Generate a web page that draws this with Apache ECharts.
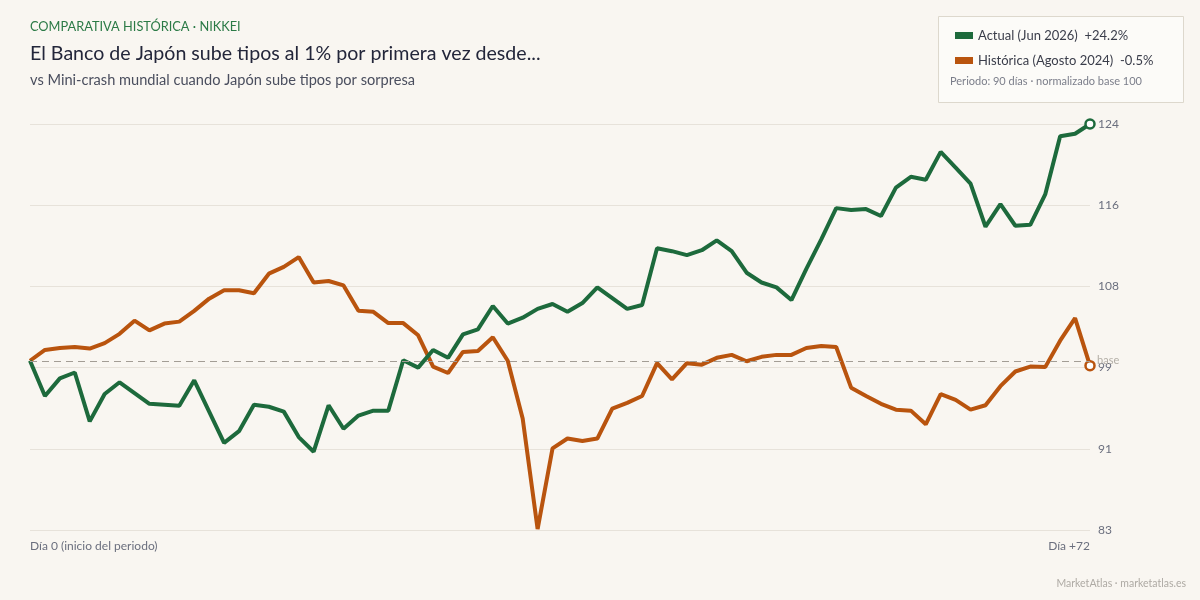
<!DOCTYPE html>
<html>
<head>
<meta charset="utf-8">
<script src="https://cdn.jsdelivr.net/npm/echarts@6/dist/echarts.min.js"></script>
<style>
  html, body { margin: 0; padding: 0; background: #f9f6f1; }
  #chart { width: 1200px; height: 600px; }
</style>
</head>
<body>
<div id="chart"></div>
<script>
// ---- Data ----
const actualName = 'Actual (Jun 2026)';
const historicName = 'Histórica (Agosto 2024)';
const actualValues = [
  100.0, 96.4, 98.2, 98.8, 93.8, 96.6, 97.8, 96.7, 95.6, 95.5,
  95.4, 98.0, 94.8, 91.6, 92.8, 95.5, 95.3, 94.8, 92.2, 90.7,
  95.45, 93.05, 94.4, 94.9, 94.9, 100.05, 99.3, 101.1, 100.3, 102.7,
  103.2, 105.6, 103.8, 104.4, 105.3, 105.8, 105.0, 105.9, 107.5, 106.4,
  105.3, 105.7, 111.5, 111.2, 110.8, 111.3, 112.3, 111.2, 109.0, 108.0,
  107.5, 106.2, 109.4, 112.4, 115.6, 115.4, 115.5, 114.8, 117.7, 118.8,
  118.5, 121.35, 119.75, 118.1, 113.7, 116.0, 113.8, 113.9, 117.0, 122.95,
  123.2, 124.2
];
const historicValues = [
  100.0, 101.1, 101.3, 101.4, 101.25, 101.8, 102.75, 104.1, 103.1, 103.8,
  104.0, 105.1, 106.35, 107.2, 107.2, 106.9, 108.9, 109.6, 110.6, 108.0,
  108.15, 107.7, 105.1, 105.0, 103.85, 103.85, 102.6, 99.4, 98.75, 100.9,
  101.0, 102.4, 100.0, 94.1, 82.8, 91.05, 92.05, 91.8, 92.05, 95.1,
  95.7, 96.4, 99.75, 98.1, 99.75, 99.6, 100.3, 100.6, 99.95, 100.4,
  100.6, 100.6, 101.3, 101.5, 101.4, 97.25, 96.4, 95.6, 95.0, 94.9,
  93.5, 96.6, 96.0, 95.0, 95.45, 97.4, 98.9, 99.4, 99.35, 102.05,
  104.35, 99.5
];
const xTickLabels = ['Día 0 (inicio del periodo)', 'Día +72'];
const yMin = 82.7, yMax = 124.2, yInterval = 8.3;
const baseValue = 100;

const colActual = '#1d6a3c';
const colHistoric = '#b9540e';

const n = actualValues.length;
const categories = actualValues.map((_, i) => String(i));

function withEndMarker(values, color) {
  return values.map((v, i) => i === values.length - 1
    ? { value: v, symbol: 'circle', symbolSize: 9,
        itemStyle: { color: '#ffffff', borderColor: color, borderWidth: 2.5 } }
    : v);
}
function pct(values) {
  const d = values[values.length - 1] - baseValue;
  return (d >= 0 ? '+' : '') + d.toFixed(1) + '%';
}
const changeByName = {};
changeByName[actualName] = pct(actualValues);
changeByName[historicName] = pct(historicValues);

const chart = echarts.init(document.getElementById('chart'), null, { renderer: 'canvas' });
const FONT = 'Lato, "Noto Sans", sans-serif';

chart.setOption({
  backgroundColor: '#f9f6f1',
  animation: false,
  textStyle: { fontFamily: FONT },
  grid: { left: 30, right: 110, top: 124, bottom: 70, containLabel: false },
  xAxis: {
    type: 'category',
    data: categories,
    boundaryGap: false,
    axisLine: { show: false },
    axisTick: { show: false },
    splitLine: { show: false },
    axisLabel: {
      color: '#6b6f7e', fontSize: 12, margin: 10,
      interval: (idx) => idx === 0 || idx === n - 1,
      showMinLabel: true, showMaxLabel: true,
      alignMinLabel: 'left', alignMaxLabel: 'right',
      formatter: (val, idx) => idx === 0 ? xTickLabels[0] : (idx === n - 1 ? xTickLabels[1] : '')
    }
  },
  yAxis: {
    type: 'value',
    position: 'right',
    min: yMin, max: yMax, interval: yInterval,
    axisLine: { show: false },
    axisTick: { show: false },
    splitLine: { lineStyle: { color: '#e7e2da', width: 1 } },
    axisLabel: {
      color: '#6b6f7e', fontSize: 12, margin: 8,
      formatter: (v) => String(Math.round(v))
    }
  },
  legend: {
    left: 950, top: 24, orient: 'vertical',
    itemWidth: 18, itemHeight: 7, itemGap: 12, icon: 'rect',
    textStyle: { color: '#3a3d4a', fontSize: 13, fontFamily: FONT },
    formatter: (name) => name + '  ' + changeByName[name],
    selectedMode: false,
    data: [actualName, historicName]
  },
  series: [
    {
      name: actualName, type: 'line', data: withEndMarker(actualValues, colActual),
      symbol: 'none', showSymbol: true, z: 3, clip: false,
      itemStyle: { color: colActual },
      lineStyle: { color: colActual, width: 4 },
      markLine: {
        silent: true, symbol: 'none',
        lineStyle: { color: '#a39d95', type: [7, 5], width: 1 },
        label: { show: true, position: 'end', formatter: 'base', color: '#b3aea6', fontSize: 11, distance: 7 },
        data: [{ yAxis: baseValue }]
      }
    },
    {
      name: historicName, type: 'line', data: withEndMarker(historicValues, colHistoric),
      symbol: 'none', showSymbol: true, z: 2, clip: false,
      itemStyle: { color: colHistoric },
      lineStyle: { color: colHistoric, width: 4 }
    }
  ],
  graphic: [
    { type: 'rect', left: 938, top: 16, z: -1, silent: true,
      shape: { width: 245, height: 86 },
      style: { fill: '#fcfbf8', stroke: '#ddd8cd', lineWidth: 1 } },
    { type: 'text', left: 950, top: 76, silent: true,
      style: { text: 'Periodo: 90 días · normalizado base 100', fill: '#7b7e8a', font: '11px ' + FONT } },
    { type: 'text', left: 30, top: 20, silent: true,
      style: { text: 'COMPARATIVA HISTÓRICA · NIKKEI', fill: '#2b7a46', font: '12.8px ' + FONT } },
    { type: 'text', left: 30, top: 44, silent: true,
      style: { text: 'El Banco de Japón sube tipos al 1% por primera vez desde...', fill: '#23263a', font: '19.6px ' + FONT } },
    { type: 'text', left: 30, top: 73, silent: true,
      style: { text: 'vs Mini-crash mundial cuando Japón sube tipos por sorpresa', fill: '#4a4e5e', font: '14.6px ' + FONT } },
    { type: 'text', right: 14, top: 578, silent: true,
      style: { text: 'MarketAtlas · marketatlas.es', fill: '#aeaaa4', font: '10.5px ' + FONT } }
  ]
});
</script>
</body>
</html>
